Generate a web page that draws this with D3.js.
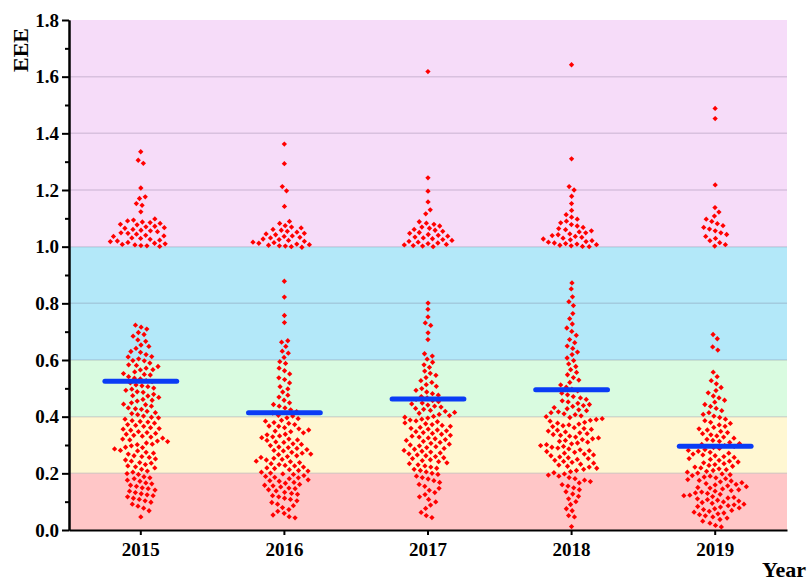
<!DOCTYPE html>
<html>
<head>
<meta charset="utf-8">
<script src="https://cdn.jsdelivr.net/npm/d3@7"></script>
<style>
  body { margin: 0; background: #fff; }
  .axis text { font-family: "Liberation Serif", "Times New Roman", serif; font-weight: bold; font-size: 19px; fill: #000; }
  .axis path, .axis line { stroke: #000; stroke-width: 2px; }
</style>
</head>
<body>
<script>
// categories
var years = ["2015", "2016", "2017", "2018", "2019"];

// EEE values, one list per year
var eee2015 = [
  1.335,1.305,1.294,1.207,1.176,1.17,1.152,1.146,1.123,1.098,1.094,1.091,1.087,1.085,1.082,1.079,1.077,1.072,1.07,1.067,
  1.065,1.061,1.058,1.056,1.053,1.049,1.047,1.044,1.04,1.038,1.036,1.031,1.029,1.026,1.023,1.02,1.018,1.015,1.012,1.01,
  1.008,1.006,1.004,1.003,1.001,
  0.723,0.716,0.709,0.697,0.69,0.684,0.671,0.666,0.653,0.648,0.641,0.63,0.627,0.619,0.612,0.611,0.604,0.598,0.597,0.589,
  0.583,0.581,0.577,0.571,0.566,0.565,0.558,0.552,0.549,0.547,0.541,0.536,0.533,0.527,0.524,0.519,0.512,0.509,0.506,0.501,
  0.497,0.493,0.488,0.486,0.479,0.474,0.473,0.468,0.461,0.458,0.455,0.449,0.444,0.442,0.437,0.431,0.428,0.426,0.419,0.414,
  0.411,0.407,0.402,0.398,0.396,0.391,0.386,0.383,0.381,0.377,0.372,0.369,0.366,0.361,0.358,0.356,0.352,0.347,0.344,0.341,
  0.338,0.334,0.331,0.328,0.324,0.321,0.318,0.314,0.312,0.307,0.303,0.301,0.297,0.292,0.291,0.286,0.281,0.279,0.274,0.271,
  0.268,0.262,0.259,0.256,0.251,0.247,0.243,0.238,0.236,0.231,0.226,0.223,0.219,0.214,0.208,0.204,0.199,0.196,0.188,0.184,
  0.181,0.176,0.172,0.166,0.163,0.158,0.154,0.149,0.146,0.141,0.137,0.132,0.128,0.124,0.121,0.117,0.112,0.108,0.103,0.098,
  0.091,0.084,0.077,0.068,0.046
];
var eee2016 = [
  1.362,1.293,1.212,1.197,1.142,1.089,1.082,1.074,1.069,1.066,1.061,1.058,1.054,1.051,1.047,1.045,1.042,1.038,1.036,1.033,
  1.031,1.027,1.025,1.022,1.019,1.016,1.014,1.012,1.009,1.007,1.005,1.003,1.002,1.0,0.998,
  0.878,0.822,0.757,0.732,0.668,0.663,0.648,0.631,0.624,0.609,0.594,0.588,0.571,0.562,0.551,0.537,0.531,0.519,0.506,0.498,
  0.487,0.476,0.469,0.458,0.449,0.443,0.437,0.431,0.424,
  0.418,0.413,0.405,0.402,0.396,0.393,0.387,0.384,0.379,0.376,0.372,0.367,0.366,0.361,0.357,0.353,0.349,0.347,0.343,0.338,
  0.336,0.332,0.329,0.326,0.321,0.318,0.316,0.311,0.309,0.304,0.302,0.298,0.293,0.291,0.288,0.284,0.281,0.279,0.274,0.271,
  0.268,0.266,0.262,0.259,0.256,0.253,0.249,0.247,0.243,0.241,0.238,0.234,0.231,0.228,0.226,0.222,0.219,0.217,0.213,0.21,
  0.208,0.204,0.201,0.198,0.196,0.192,0.189,0.186,0.184,0.181,0.177,0.174,0.172,0.168,0.165,0.161,0.158,0.156,0.152,0.148,
  0.146,0.142,0.138,0.133,0.129,0.126,0.121,0.117,0.112,0.108,0.103,0.097,0.091,0.086,0.079,0.072,0.066,0.059,0.053,0.047,
  0.043
];
var eee2017 = [
  1.618,1.243,1.196,1.158,1.13,1.116,1.088,1.083,1.079,1.073,1.069,1.065,1.061,1.058,1.054,1.05,1.047,1.043,1.04,1.037,
  1.034,1.031,1.028,1.025,1.022,1.019,1.016,1.013,1.011,1.008,1.006,1.004,1.002,1.0,
  0.801,0.779,0.752,0.731,0.722,0.696,0.672,
  0.622,0.614,0.603,0.592,0.583,0.574,0.561,0.553,0.546,0.538,0.527,0.521,0.513,0.507,0.499,0.493,0.487,0.481,0.476,0.471,
  0.466,0.461,0.457,0.453,0.448,0.445,0.441,0.437,0.434,0.429,0.426,0.422,0.419,0.415,0.412,0.408,0.404,0.401,0.398,0.395,
  0.391,0.388,0.385,0.382,0.378,0.375,0.372,0.369,0.366,0.362,0.359,0.356,0.353,0.35,0.347,0.344,0.341,0.338,0.334,0.331,
  0.328,0.325,0.322,0.319,0.316,0.313,0.309,0.306,0.303,0.3,0.297,0.294,0.291,0.288,0.285,0.281,0.278,0.275,0.272,0.269,
  0.265,0.262,0.259,0.255,0.252,0.248,0.245,0.241,0.237,0.234,0.23,0.226,0.222,0.218,0.214,0.21,0.205,0.2,0.196,0.19,
  0.185,0.18,0.174,0.168,0.161,0.154,0.147,0.14,0.132,0.125,0.117,0.108,0.099,0.088,0.076,0.062,0.051,0.044
];
var eee2018 = [
  1.642,1.31,1.212,1.2,1.178,1.152,1.128,1.113,1.104,1.097,1.09,1.084,1.078,1.073,1.068,1.064,1.06,1.056,1.052,1.049,
  1.045,1.042,1.039,1.036,1.033,1.03,1.027,1.024,1.021,1.018,1.016,1.013,1.011,1.009,1.007,1.005,1.003,1.001,1.0,
  0.872,0.851,0.823,0.806,0.792,0.764,0.746,0.727,0.713,0.701,0.687,0.672,0.661,0.649,0.641,0.628,0.619,0.607,0.598,0.586,
  0.577,0.566,0.556,0.548,0.538,0.529,0.521,0.512,0.504,0.497,0.491,0.483,0.477,0.471,0.466,
  0.461,0.456,0.452,0.447,0.443,0.439,0.436,0.432,0.428,0.424,0.421,0.417,0.414,0.41,0.407,0.403,0.4,0.397,0.393,0.39,
  0.387,0.384,0.38,0.377,0.374,0.371,0.368,0.365,0.361,0.358,0.355,0.352,0.349,0.346,0.343,0.34,0.337,0.334,0.331,0.328,
  0.325,0.322,0.319,0.316,0.313,0.31,0.307,0.304,0.301,0.298,0.295,0.292,0.289,0.286,0.283,0.28,0.277,0.274,0.271,0.268,
  0.265,0.262,0.258,0.255,0.252,0.249,0.246,0.242,0.239,0.236,0.232,0.229,0.225,0.222,0.218,0.214,0.21,0.206,0.202,0.198,
  0.194,0.19,0.185,0.181,0.176,0.171,0.166,0.16,0.155,0.149,0.142,0.135,0.127,0.119,0.11,0.1,0.09,0.075,0.068,0.051,
  0.046,0.012
];
var eee2019 = [
  1.488,1.452,1.218,1.138,1.122,1.108,1.097,1.089,1.081,1.074,1.068,1.062,1.056,1.049,1.043,1.036,1.029,1.021,1.014,1.007,
  1.002,
  0.69,0.675,0.646,0.635,
  0.557,0.541,0.527,0.516,0.503,0.492,0.484,0.473,0.466,0.458,0.451,0.443,0.436,0.429,0.421,0.414,0.408,
  0.402,0.397,0.391,0.386,0.38,0.376,0.371,0.366,0.362,0.357,0.353,0.348,0.344,0.34,0.336,0.332,0.328,0.324,0.32,0.316,
  0.313,0.309,0.305,0.302,0.298,0.295,0.291,0.288,0.284,0.281,0.278,0.274,0.271,0.268,0.265,0.262,0.259,0.256,0.252,0.249,
  0.246,0.243,0.24,0.237,0.234,0.231,0.228,0.225,0.222,0.219,0.216,0.213,0.21,0.207,0.204,0.201,0.198,0.195,0.192,0.19,
  0.187,0.184,0.181,0.178,0.175,0.173,0.17,0.167,0.164,0.161,0.159,0.156,0.153,0.15,0.148,0.145,0.142,0.139,0.137,0.134,
  0.131,0.129,0.126,0.123,0.121,0.118,0.115,0.113,0.11,0.107,0.105,0.102,0.099,0.097,0.094,0.091,0.089,0.086,0.083,0.081,
  0.078,0.075,0.072,0.069,0.066,0.063,0.06,0.057,0.054,0.05,0.046,0.042,0.037,0.031,0.024,0.016,0.011
];

// mean of each year (blue bars)
var means = [0.525, 0.414, 0.462, 0.495, 0.296];

// grade bands and ticks
var bandBreaks = [0, 0.2, 0.4, 0.6, 1.0, 1.8];
var yTicks = [0, 0.2, 0.4, 0.6, 0.8, 1.0, 1.2, 1.4, 1.6, 1.8];
var yMinorTicks = [0.1, 0.3, 0.5, 0.7, 0.9, 1.1, 1.3, 1.5, 1.7];

var series = [eee2015, eee2016, eee2017, eee2018, eee2019];
var bandColors = ["#ffc6c7", "#fff7d2", "#d9fbe0", "#b3e8f9", "#f6dcf9"];

// set the dimensions and margins of the graph
var margin = {top: 20, right: 24, bottom: 51, left: 69},
    width = 811 - margin.left - margin.right,
    height = 581 - margin.top - margin.bottom;

var x = d3.scaleBand().domain(years).range([0, width]);
var y = d3.scaleLinear().domain([0, 1.8]).range([height, 0]);
function cx(yr) { return x(yr) + x.bandwidth() / 2; }

var svg = d3.select("body")
  .append("svg")
    .attr("width", 811)
    .attr("height", 581)
  .append("g")
    .attr("transform", "translate(" + margin.left + "," + margin.top + ")");

// coloured grade bands
svg.selectAll(".band")
    .data(d3.pairs(bandBreaks))
  .enter().append("rect")
    .attr("class", "band")
    .attr("x", 0)
    .attr("width", width)
    .attr("y", function(d) { return y(d[1]); })
    .attr("height", function(d) { return y(d[0]) - y(d[1]); })
    .style("fill", function(d, i) { return bandColors[i]; });

// horizontal grid lines
svg.selectAll(".grid")
    .data(yTicks.slice(1, -1))
  .enter().append("line")
    .attr("class", "grid")
    .attr("x1", 0)
    .attr("x2", width)
    .attr("y1", function(d) { return y(d); })
    .attr("y2", function(d) { return y(d); })
    .style("stroke", "rgba(110,100,130,0.22)")
    .style("stroke-width", 1.5);

// beeswarm layout of the points
var nodes = [];
series.forEach(function(vals, i) {
  vals.forEach(function(v, j) {
    nodes.push({year: years[i], value: v, x: cx(years[i]) + (j % 5) - 2, fy: y(v)});
  });
});
var sim = d3.forceSimulation(nodes)
    .force("x", d3.forceX(function(d) { return cx(d.year); }).strength(0.05))
    .force("collide", d3.forceCollide(3))
    .stop();
for (var k = 0; k < 300; k++) sim.tick();

svg.selectAll(".dot")
    .data(nodes)
  .enter().append("path")
    .attr("class", "dot")
    .attr("d", d3.symbol().type(d3.symbolSquare).size(14))
    .attr("transform", function(d) { return "translate(" + d.x + "," + d.fy + ") rotate(45)"; })
    .style("fill", "#ff0000");

// mean bars
svg.selectAll(".mean")
    .data(means)
  .enter().append("line")
    .attr("class", "mean")
    .attr("x1", function(d, i) { return cx(years[i]) - x.bandwidth() / 4; })
    .attr("x2", function(d, i) { return cx(years[i]) + x.bandwidth() / 4; })
    .attr("y1", function(d) { return y(d); })
    .attr("y2", function(d) { return y(d); })
    .style("stroke", "#0a3cf5")
    .style("stroke-width", 5)
    .style("stroke-linecap", "round");

// Add the X Axis
svg.append("g")
    .attr("class", "axis")
    .attr("transform", "translate(0," + height + ")")
    .call(d3.axisBottom(x).tickSize(5).tickSizeOuter(0).tickPadding(8));

// Add the Y Axis (major + minor ticks)
svg.append("g")
    .attr("class", "axis")
    .call(d3.axisLeft(y).tickValues(yMinorTicks).tickFormat("").tickSize(4).tickSizeOuter(0));
svg.append("g")
    .attr("class", "axis")
    .call(d3.axisLeft(y).tickValues(yTicks).tickFormat(d3.format(".1f")).tickSize(7).tickSizeOuter(0).tickPadding(3));

// axis titles
svg.append("text")
    .attr("transform", "translate(" + (28 - margin.left) + "," + (50 - margin.top) + ") rotate(-90)")
    .attr("text-anchor", "middle")
    .style("font-family", "Liberation Serif, serif")
    .style("font-weight", "bold")
    .style("font-size", "22px")
    .text("EEE");

svg.append("text")
    .attr("x", 806 - margin.left)
    .attr("y", 577 - margin.top)
    .attr("text-anchor", "end")
    .style("font-family", "Liberation Serif, serif")
    .style("font-weight", "bold")
    .style("font-size", "22px")
    .text("Year");
</script>
</body>
</html>
